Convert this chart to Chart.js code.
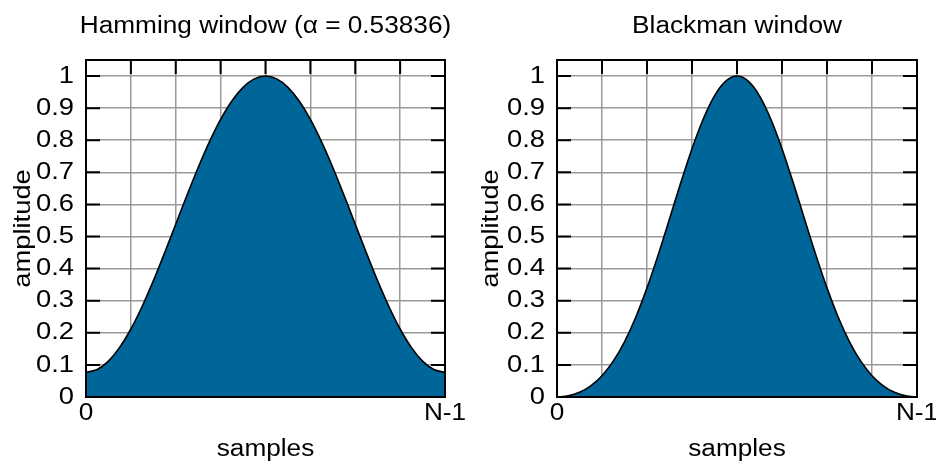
<!DOCTYPE html>
<html><head><meta charset="utf-8">
<script src="https://cdn.jsdelivr.net/npm/chart.js@4.4.0/dist/chart.umd.min.js"></script>
<style>
html,body{margin:0;padding:0;background:#fff;}
#wrap{position:relative;width:936px;height:462px;overflow:hidden;}
canvas{position:absolute;top:0;}
</style></head><body>
<div id="wrap">
<canvas id="c1" width="468" height="462" style="left:0;width:468px;height:462px"></canvas>
<canvas id="c2" width="468" height="462" style="left:468px;width:468px;height:462px"></canvas>
</div>
<script>
// sample positions (0 .. N-1 mapped onto 32 steps)
const samples = [0,1,2,3,4,5,6,7,8,9,10,11,12,13,14,15,16,17,18,19,20,21,22,23,24,25,26,27,28,29,30,31,32];
const hamming = [0.0767,0.0856,0.1119,0.1545,0.2119,0.2819,0.3617,0.4483,0.5384,0.6284,0.7150,0.7948,0.8648,0.9222,0.9649,0.9911,1.0000,0.9911,0.9649,0.9222,0.8648,0.7948,0.7150,0.6284,0.5384,0.4483,0.3617,0.2819,0.2119,0.1545,0.1119,0.0856,0.0767];
const blackman = [0.0000,0.0035,0.0146,0.0349,0.0664,0.1116,0.1721,0.2485,0.3400,0.4436,0.5548,0.6672,0.7736,0.8663,0.9385,0.9843,1.0000,0.9843,0.9385,0.8663,0.7736,0.6672,0.5548,0.4436,0.3400,0.2485,0.1721,0.1116,0.0664,0.0349,0.0146,0.0035,0.0000];
const xTickLabels = ['0','','','','','','','','N-1'];
const yTickLabels = ['0','0.1','0.2','0.3','0.4','0.5','0.6','0.7','0.8','0.9','1'];
const chartTitles = ['Hamming window (\u03b1 = 0.53836)','Blackman window'];
const xAxisTitle = 'samples';
const yAxisTitle = 'amplitude';

const FAMILY = '"Liberation Sans", Arial, Helvetica, sans-serif';
const FS = 23;
const TEXT_STRETCH = 1.14;   // glyphs in the original are drawn wide
const FILL = '#006699';
const GRID = '#9a9a9a';
const TL = 14;

// widen every glyph run along its own direction (also for the rotated axis title)
function widenText(ctx, s) {
  const orig = ctx.fillText.bind(ctx);
  ctx.fillText = function (text, x, y, maxWidth) {
    this.save();
    this.translate(x, y);
    this.scale(s, 1);
    if (maxWidth === undefined || maxWidth === null) orig(text, 0, 0);
    else orig(text, 0, 0, maxWidth / s);
    this.restore();
  };
}

const frameTicks = {
  id: 'frameTicks',
  beforeDatasetsDraw(chart) {
    const {ctx, chartArea: a, scales: {x, y}} = chart;
    ctx.save();
    ctx.strokeStyle = '#000';
    ctx.lineWidth = 2;
    ctx.beginPath();
    y.ticks.forEach(t => {
      const p = y.getPixelForValue(t.value);
      ctx.moveTo(a.left, p); ctx.lineTo(a.left + TL, p);
      ctx.moveTo(a.right, p); ctx.lineTo(a.right - TL, p);
    });
    x.ticks.forEach(t => {
      const p = x.getPixelForValue(t.value);
      ctx.moveTo(p, a.top); ctx.lineTo(p, a.top + TL);
      ctx.moveTo(p, a.bottom); ctx.lineTo(p, a.bottom - TL);
    });
    ctx.stroke();
    ctx.restore();
  },
  afterDatasetsDraw(chart) {
    const {ctx, chartArea: a} = chart;
    ctx.save();
    ctx.strokeStyle = '#000';
    ctx.lineWidth = 2;
    ctx.strokeRect(a.left, a.top, a.right - a.left, a.bottom - a.top);
    ctx.restore();
  }
};

// chart title centred over the plot area
const plotTitle = {
  id: 'plotTitle',
  afterDraw(chart, args, opts) {
    const {ctx, chartArea: a} = chart;
    ctx.save();
    ctx.font = `${FS}px ${FAMILY}`;
    ctx.fillStyle = '#000';
    ctx.textAlign = 'center';
    ctx.textBaseline = 'alphabetic';
    ctx.fillText(opts.text, (a.left + a.right) / 2, 33);
    ctx.restore();
  }
};

function makeChart(id, title, values, yWidth, padRight) {
  const canvas = document.getElementById(id);
  widenText(canvas.getContext('2d'), TEXT_STRETCH);
  return new Chart(canvas, {
    type: 'line',
    data: {
      datasets: [{
        data: samples.map((s, i) => ({x: s, y: values[i]})),
        fill: 'origin',
        backgroundColor: FILL,
        borderColor: '#000',
        borderWidth: 1.6,
        pointRadius: 0,
        cubicInterpolationMode: 'monotone'
      }]
    },
    options: {
      responsive: false,
      animation: false,
      events: [],
      layout: {padding: {left: 0, right: padRight, top: 60, bottom: 0}},
      plugins: {
        legend: {display: false},
        tooltip: {enabled: false},
        title: {display: false},
        plotTitle: {text: title}
      },
      scales: {
        x: {
          type: 'linear', min: 0, max: 32,
          ticks: {stepSize: 4, autoSkip: false, maxRotation: 0, color: '#000', padding: 3,
            font: {family: FAMILY, size: FS},
            callback: (v, i) => xTickLabels[i]},
          grid: {color: GRID, lineWidth: 1.5, drawTicks: false},
          border: {display: false},
          title: {display: true, text: xAxisTitle, color: '#000',
            font: {family: FAMILY, size: FS}, padding: {top: 0, bottom: -1}},
          afterFit(s) { s.height = 65; s.paddingLeft = 0; s.paddingRight = 0; }
        },
        y: {
          min: 0, max: 1.05,
          ticks: {stepSize: 0.1, includeBounds: false, autoSkip: false, color: '#000', padding: 12,
            font: {family: FAMILY, size: 24},
            callback: (v, i) => yTickLabels[i]},
          grid: {color: GRID, lineWidth: 1.5, drawTicks: false},
          border: {display: false},
          title: {display: true, text: yAxisTitle, color: '#000',
            font: {family: FAMILY, size: 24}, padding: {top: 9, bottom: 0}},
          afterFit(s) { s.width = yWidth; s.paddingTop = 0; s.paddingBottom = 0; }
        }
      }
    },
    plugins: [frameTicks, plotTitle]
  });
}

makeChart('c1', chartTitles[0], hamming, 86, 23);
makeChart('c2', chartTitles[1], blackman, 89, 19);
</script>
</body></html>
